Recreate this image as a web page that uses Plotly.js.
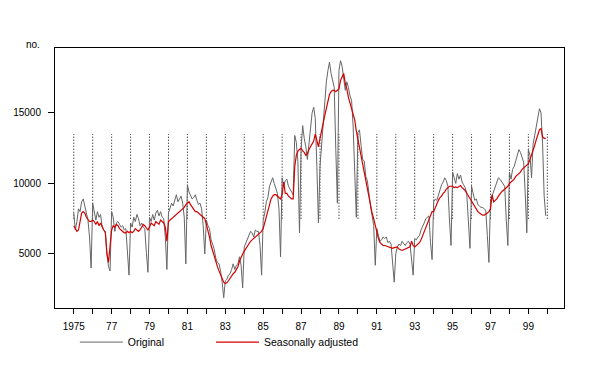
<!DOCTYPE html>
<html><head><meta charset="utf-8">
<script src="https://cdn.plot.ly/plotly-3.0.1.min.js"></script>
<style>html,body{margin:0;padding:0;background:#fff}</style>
</head><body><div id="chart" style="width:596px;height:366px"></div>
<script>
// Monthly data, January 1975 to December 1999 (one row per year)
const startYear = 1975;
const original = [
  7900, 6700, 7300, 8200, 8000, 8700, 8900, 8400, 7800, 7400, 6200, 4000,
  8600, 7900, 7400, 8000, 7600, 7800, 6900, 6700, 6600, 5100, 4100, 3800,
  8000, 7600, 6600, 7200, 7300, 7100, 6900, 7000, 6700, 6800, 5100, 3500,
  7200, 6900, 7600, 7300, 7800, 7500, 7000, 7200, 6900, 6800, 5100, 3700,
  7600, 7300, 7800, 7400, 7900, 8100, 7700, 8000, 7600, 7500, 6200, 3900,
  7900, 8300, 8600, 8400, 8800, 9200, 8700, 8900, 9100, 8600, 7600, 4300,
  9900, 9400, 9200, 8900, 9000, 9200, 8800, 8500, 8600, 8200, 7000, 5000,
  7400, 7000, 6800, 6000, 5700, 5300, 4700, 4400, 4300, 3800, 3000, 1900,
  3100, 3200, 3500, 3600, 3900, 4300, 3900, 4200, 4300, 4800, 4200, 2600,
  5500, 5800, 6100, 6300, 6600, 6500, 6200, 6700, 6600, 6600, 5600, 3500,
  7400, 7900, 8700, 9000, 9800, 10100, 10400, 10000, 9600, 9300, 8200, 4800,
  10400, 9800, 10200, 10300, 9800, 9600, 9500, 9200, 13400, 12900, 11500, 6500,
  12400, 14100, 13200, 12600, 11700, 12800, 14200, 15000, 15400, 14600, 11200, 7200,
  11200, 12900, 14500, 16100, 17200, 18000, 18600, 17800, 17300, 16800, 12400, 8600,
  18000, 18700, 18300, 17500, 16600, 17200, 16800, 16200, 15900, 14000, 10000, 7600,
  13600, 13800, 12700, 11700, 11600, 10500, 10200, 9100, 8400, 7700, 7000, 4200,
  6800, 6300, 5900, 6000, 6200, 6100, 6200, 5800, 5900, 5700, 4500, 3000,
  5000, 5500, 5700, 5600, 5900, 5700, 5600, 5800, 5900, 5700, 4600, 3500,
  6100, 6000, 6200, 6300, 6700, 6900, 7200, 7500, 7600, 7700, 5800, 4600,
  8700, 8900, 8800, 9200, 9600, 9900, 10100, 10400, 10200, 9800, 7400, 5600,
  10800, 10400, 10000, 10700, 10300, 10600, 10100, 9900, 9700, 9200, 7100, 5400,
  9800, 9200, 8800, 8900, 8500, 8400, 8300, 8300, 8200, 8100, 6300, 4400,
  8800, 9100, 9500, 9800, 10000, 10400, 10300, 10100, 9900, 9800, 7400, 5600,
  10800, 10300, 11000, 11200, 11600, 12000, 12400, 12200, 11800, 11500, 9300, 6500,
  12400, 12000, 10400, 12800, 13400, 14000, 14800, 15300, 15000, 12800, 9100, 7700
];
const seasonallyAdjusted = [
  7000, 6800, 6600, 6700, 7400, 7900, 8000, 7900, 7600, 7400, 7300, 7300,
  7400, 7300, 7100, 7300, 7000, 7200, 6900, 6700, 6500, 5000, 4400, 5600,
  6700, 7000, 6900, 7100, 7000, 6800, 6700, 6600, 6500, 6500, 6600, 6500,
  6600, 6500, 6600, 6800, 6700, 6600, 6700, 6900, 7100, 7000, 6800, 6700,
  6900, 7200, 7100, 7000, 7300, 7200, 7100, 7400, 7300, 7200, 6900, 5900,
  7300, 7400, 7500, 7600, 7700, 7800, 7900, 8000, 8100, 8200, 8300, 8500,
  8600, 8700, 8500, 8300, 8100, 8000, 8000, 7900, 7800, 7700, 7600, 7500,
  7100, 6700, 6200, 5600, 5200, 4800, 4500, 4100, 3800, 3500, 3200, 3000,
  2900, 2950, 3100, 3300, 3450, 3600, 3700, 3900, 4100, 4500, 4800, 5000,
  5200, 5400, 5600, 5800, 5900, 6000, 6100, 6200, 6300, 6400, 6500, 6600,
  6800, 7200, 7600, 8100, 8500, 8900, 9100, 9200, 9200, 9100, 9000, 8900,
  9200, 10100, 9300, 9300, 9100, 9000, 8900, 8900, 11200, 12000, 12300, 12400,
  12500, 12300, 12200, 12000, 12100, 12400, 12600, 12800, 13000, 13500, 13000, 12600,
  13200, 13800, 14300, 14800, 15300, 15900, 16300, 16500, 16600, 16600, 16500, 16600,
  16700, 17300, 17500, 17800, 17100, 16700, 16100, 15700, 15300, 14900, 14500, 13700,
  13100, 12600, 12000, 11400, 10900, 10200, 9600, 9000, 8400, 7900, 7500, 7000,
  6600, 6100, 5800, 5700, 5600, 5600, 5550, 5500, 5450, 5400, 5400, 5450,
  5500, 5500, 5350, 5300, 5250, 5300, 5350, 5400, 5450, 5500, 5900, 5600,
  5500, 5600, 5700, 5800, 6000, 6300, 6600, 6800, 7100, 7400, 7700, 8000,
  8000, 8300, 8600, 8800, 9000, 9100, 9300, 9400, 9600, 9700, 9800, 9800,
  9800, 9700, 9750, 9700, 9800, 9850, 9700, 9600, 9500, 9300, 9100, 9000,
  8800, 8600, 8400, 8200, 8000, 7900, 7800, 7750, 7750, 7800, 7900, 8000,
  8200, 9200, 8700, 8800, 8900, 9100, 9300, 9400, 9500, 9600, 9700, 9800,
  10000, 10100, 10200, 10300, 10500, 10600, 10700, 10800, 11000, 11100, 11200, 11300,
  11400, 11700, 12000, 12300, 12700, 13100, 13500, 13800, 13900, 13300, 13200, 13200
];
// Dotted year markers
const markerYears = [1975,1976,1977,1978,1979,1980,1981,1982,1983,1984,1985,1986,1987,
  1988,1989,1990,1991,1992,1993,1994,1995,1996,1997,1998,1999,2000];
const markerLow = 7500, markerHigh = 13500;
// Axis ticks
const xTickVals = markerYears;
const xTickText = ["1975","","77","","79","","81","","83","","85","","87","","89","",
  "91","","93","","95","","97","","99",""];
const yTickVals = [5000, 10000, 15000];
const yTickText = ["5000", "10000", "15000"];

const xMonths = original.map((_, i) => startYear + Math.floor(i / 12) + (i % 12) / 12);
const mx = [], my = [];
markerYears.forEach(yr => { mx.push(yr, yr, null); my.push(markerLow, markerHigh, null); });

const font = {family: '"Liberation Sans", Arial, sans-serif', size: 10, color: '#000'};
const legendFont = {family: font.family, size: 10.5, color: '#000'};

const traces = [
  {x: mx, y: my, mode: 'lines', line: {color: '#000', width: 1, dash: '1px,2px'},
   showlegend: false, hoverinfo: 'skip'},
  {x: xMonths, y: original, mode: 'lines', name: 'Original', legend: 'legend',
   line: {color: '#666666', width: 1}},
  {x: xMonths, y: seasonallyAdjusted, mode: 'lines', name: 'Seasonally adjusted', legend: 'legend2',
   line: {color: '#d40000', width: 1.2}}
];

const layout = {
  width: 596, height: 366,
  margin: {l: 55, r: 32, t: 48, b: 58, autoexpand: false},
  paper_bgcolor: '#fff', plot_bgcolor: '#fff',
  font: font,
  showlegend: true,
  legend: {orientation: 'h', x: 0.039, y: 0.105, yref: 'container', xanchor: 'left', yanchor: 'top',
    font: legendFont, itemwidth: 43, bgcolor: 'rgba(0,0,0,0)'},
  legend2: {orientation: 'h', x: 0.3065, y: 0.105, yref: 'container', xanchor: 'left', yanchor: 'top',
    font: legendFont, itemwidth: 43, bgcolor: 'rgba(0,0,0,0)'},
  xaxis: {range: [1974.01, 2000.88], tickmode: 'array', tickvals: xTickVals, ticktext: xTickText,
    ticks: 'outside', ticklen: 5, tickcolor: '#000', showgrid: false, zeroline: false,
    showline: true, linecolor: '#000', linewidth: 1, mirror: true, tickfont: font,
    ticklabelstandoff: 4},
  yaxis: {range: [1170, 19600], tickmode: 'array', tickvals: yTickVals, ticktext: yTickText,
    ticks: 'outside', ticklen: 6, tickcolor: '#000', showgrid: false, zeroline: false,
    showline: true, linecolor: '#000', linewidth: 1, mirror: true, tickfont: font,
    ticklabelstandoff: 5},
  annotations: [{text: 'no.', xref: 'paper', yref: 'paper', x: 0, y: 1, xanchor: 'right',
    yanchor: 'bottom', xshift: -13, yshift: -4, showarrow: false, font: font}]
};

Plotly.newPlot('chart', traces, layout, {displayModeBar: false, staticPlot: true});
</script></body></html>
